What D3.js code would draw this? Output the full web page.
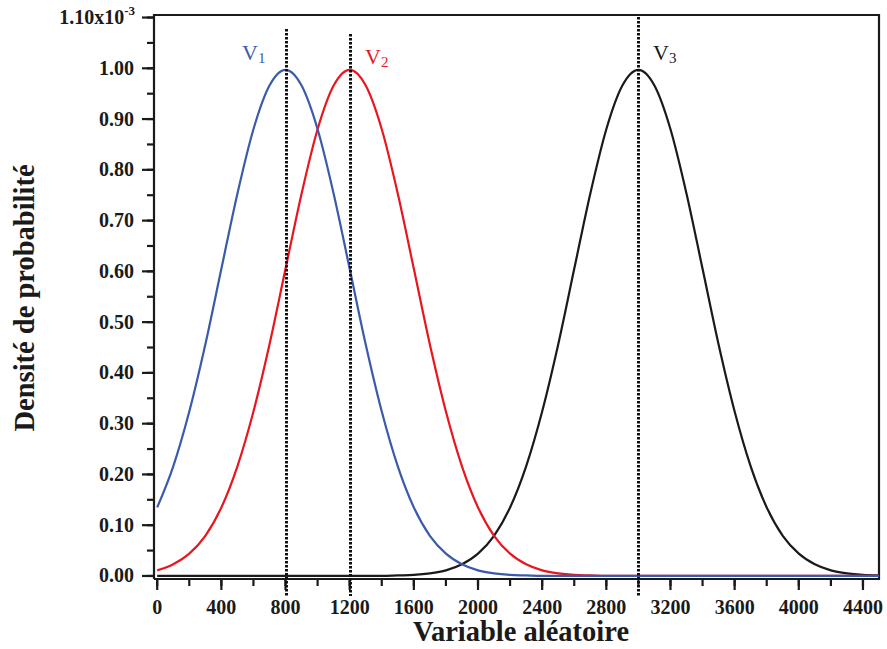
<!DOCTYPE html>
<html><head><meta charset="utf-8">
<script src="https://cdnjs.cloudflare.com/ajax/libs/d3/7.8.5/d3.min.js"></script>
<style>body{margin:0;background:#fff}svg{display:block}</style>
</head><body>
<svg id="c" width="887" height="649"></svg>
<script>
const xValues = [0,100,200,300,400,500,600,700,800,900,1000,1100,1200,1300,1400,1500,1600,1700,1800,1900,2000,2100,2200,2300,2400,2500,2600,2700,2800,2900,3000,3100,3200,3300,3400,3500,3600,3700,3800,3900,4000,4100,4200,4300,4400,4500];
const v1 = [0.135,0.216,0.324,0.456,0.605,0.753,0.880,0.966,0.997,0.966,0.880,0.753,0.605,0.456,0.324,0.216,0.135,0.079,0.044,0.023,0.011,0.005,0.002,0.001,0,0,0,0,0,0,0,0,0,0,0,0,0,0,0,0,0,0,0,0,0,0];
const v2 = [0.011,0.023,0.044,0.079,0.135,0.216,0.324,0.456,0.605,0.753,0.880,0.966,0.997,0.966,0.880,0.753,0.605,0.456,0.324,0.216,0.135,0.079,0.044,0.023,0.011,0.005,0.002,0.001,0,0,0,0,0,0,0,0,0,0,0,0,0,0,0,0,0,0];
const v3 = [0,0,0,0,0,0,0,0,0,0,0,0,0,0,0,0.001,0.002,0.005,0.011,0.023,0.044,0.079,0.135,0.216,0.324,0.456,0.605,0.753,0.880,0.966,0.997,0.966,0.880,0.753,0.605,0.456,0.324,0.216,0.135,0.079,0.044,0.023,0.011,0.005,0.002,0.001];
const seriesNames = ["1","2","3"];
const seriesColors = ["#3a5ba9","#e8161e","#1a1a1a"];
const meanLines = [800,1200,3000];
const xTicks = [0,400,800,1200,1600,2000,2400,2800,3200,3600,4000,4400];
const yTicks = [0,0.1,0.2,0.3,0.4,0.5,0.6,0.7,0.8,0.9,1.0];
const yTickLabels = ["0.00","0.10","0.20","0.30","0.40","0.50","0.60","0.70","0.80","0.90","1.00"];
const xTitle = "Variable aléatoire";
const yTitle = "Densité de probabilité";

const svg = d3.select("#c");
const L=154, R=879, T=15, B=579;
const x = d3.scaleLinear().domain([-20,4500]).range([L,R]);
const y = d3.scaleLinear().domain([-0.006,1.105]).range([B,T]);
const font = "'Liberation Serif','Times New Roman',serif";

// frame
svg.append("path").attr("d",`M${L},${B}V${T}H${R}V${B}H${L}`).attr("fill","none").attr("stroke","#1a1a1a").attr("stroke-width",2.2);

// y axis ticks
const yMinor = d3.range(0,1.101,0.05);
svg.selectAll(".ymin").data(yMinor).enter().append("line")
  .attr("x1",L).attr("x2",L-7).attr("y1",d=>y(d)).attr("y2",d=>y(d)).attr("stroke","#1a1a1a").attr("stroke-width",2.2);
svg.selectAll(".ymaj").data(yTicks.concat([1.1])).enter().append("line")
  .attr("x1",L).attr("x2",L-12).attr("y1",d=>y(d)).attr("y2",d=>y(d)).attr("stroke","#1a1a1a").attr("stroke-width",2.2);
svg.selectAll(".ylab").data(yTicks).enter().append("text")
  .attr("x",L-20).attr("y",d=>y(d)+6.5).attr("text-anchor","end")
  .attr("font-family",font).attr("font-weight","bold").attr("font-size",20).attr("fill","#1a1a1a")
  .text((d,i)=>yTickLabels[i]);
const topLab = svg.append("text").attr("x",L-19).attr("y",y(1.1)+6.5).attr("text-anchor","end")
  .attr("font-family",font).attr("font-weight","bold").attr("font-size",20).attr("fill","#1a1a1a");
topLab.append("tspan").text("1.10x10");
topLab.append("tspan").attr("dy",-9).attr("font-size",13).text("-3");

// x axis ticks
const xMinor = d3.range(0,4501,200);
svg.selectAll(".xmin").data(xMinor).enter().append("line")
  .attr("x1",d=>x(d)).attr("x2",d=>x(d)).attr("y1",B).attr("y2",B+7).attr("stroke","#1a1a1a").attr("stroke-width",2.2);
svg.selectAll(".xmaj").data(xTicks).enter().append("line")
  .attr("x1",d=>x(d)).attr("x2",d=>x(d)).attr("y1",B).attr("y2",B+11).attr("stroke","#1a1a1a").attr("stroke-width",2.2);
svg.selectAll(".xlab").data(xTicks).enter().append("text")
  .attr("x",d=>x(d)).attr("y",614).attr("text-anchor","middle")
  .attr("font-family",font).attr("font-weight","bold").attr("font-size",20).attr("fill","#1a1a1a")
  .text(d=>d);

// titles
svg.append("text").attr("x",521).attr("y",641).attr("text-anchor","middle")
  .attr("font-family",font).attr("font-weight","bold").attr("font-size",28.5).attr("fill","#1a1a1a").text(xTitle);
svg.append("text").attr("transform","translate(34,298) rotate(-90)").attr("text-anchor","middle")
  .attr("font-family",font).attr("font-weight","bold").attr("font-size",28.5).attr("fill","#1a1a1a").text(yTitle);

// curves
const line = d3.line().x((d,i)=>x(xValues[i])).y(d=>y(d)).curve(d3.curveMonotoneX);
[v3,v2,v1].forEach((s,k)=>{
  const idx = 2-k;
  svg.append("path").attr("d",line(s)).attr("fill","none").attr("stroke",seriesColors[idx]).attr("stroke-width",2.2);
});

// dotted lines
const dotTop = [29,34,17];
meanLines.forEach((m,i)=>{
  svg.append("line").attr("x1",Math.round(x(m))+0.5).attr("x2",Math.round(x(m))+0.5).attr("y1",dotTop[i]).attr("y2",596)
    .attr("stroke","#111").attr("stroke-width",3).attr("stroke-dasharray","2.5,1.5");
});

// labels
const labPos = [[242,60],[365,64],[653,60]];
seriesNames.forEach((n,i)=>{
  const t = svg.append("text").attr("x",labPos[i][0]).attr("y",labPos[i][1])
    .attr("font-family",font).attr("font-size",22).attr("fill",seriesColors[i]);
  t.append("tspan").text("V");
  t.append("tspan").attr("dy",3).attr("font-size",15).text(n);
});
</script>
</body></html>
